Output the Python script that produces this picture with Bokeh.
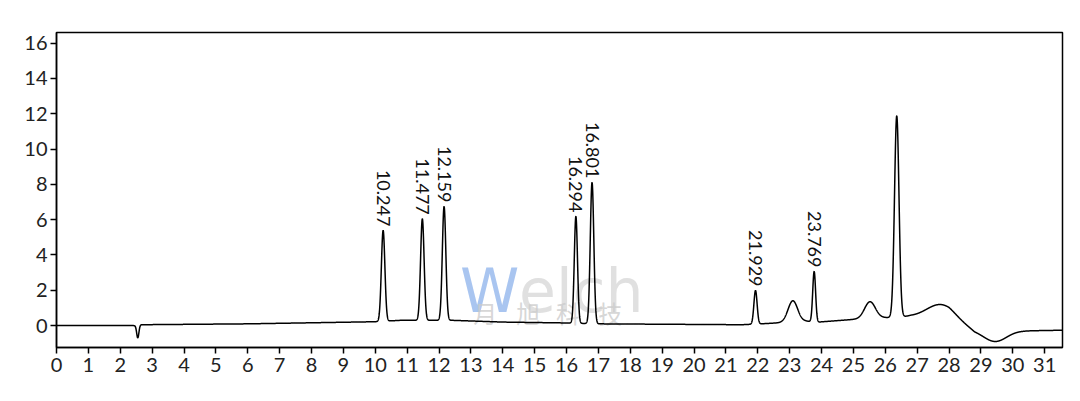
import numpy as np
from math import pi
from bokeh.plotting import figure
from bokeh.models import ColumnDataSource, Range1d, FixedTicker
from bokeh.core.properties import value
from bokeh.embed import file_html
from bokeh.resources import INLINE

# ---- data ----
# peaks: retention time (min), height above baseline (mAU), sigma (min)
peak_rt = [2.55, 10.247, 11.477, 12.159, 16.294, 16.801, 21.929, 23.10, 23.769, 25.52, 26.36, 27.75, 29.45]
peak_h = [-0.72, 5.15, 5.75, 6.45, 6.05, 8.0, 1.9, 1.2, 2.85, 0.95, 11.4, 0.85, -0.6]
peak_w = [0.035, 0.055, 0.055, 0.055, 0.05, 0.055, 0.05, 0.15, 0.045, 0.17, 0.07, 0.45, 0.35]

# baseline drift anchor points
base_t = [0.0, 2.45, 2.65, 6.0, 10.0, 10.8, 12.4, 14.0, 16.0, 17.0, 21.5, 22.3, 23.5, 23.9, 25.0, 26.0, 26.8, 28.0, 28.8, 30.3, 31.6]
base_y = [0.0, 0.0, 0.05, 0.1, 0.22, 0.3, 0.3, 0.2, 0.15, 0.1, 0.05, 0.12, 0.25, 0.2, 0.35, 0.45, 0.5, 0.3, -0.3, -0.3, -0.26]

# labelled peaks
label_text = ["10.247", "11.477", "12.159", "16.294", "16.801", "21.929", "23.769"]
label_rt = [10.247, 11.477, 12.159, 16.294, 16.801, 21.929, 23.769]

x_ticks = list(range(0, 32))
y_ticks = list(range(0, 17, 2))

# ---- build trace ----
t = np.linspace(0, 31.6, 8000)


def signal(tt):
    tt = np.asarray(tt, dtype=float)
    s = np.interp(tt, base_t, base_y)
    for rt, h, w in zip(peak_rt, peak_h, peak_w):
        s = s + h * np.exp(-0.5 * ((tt - rt) / w) ** 2)
    return s


trace = ColumnDataSource(dict(t=t, s=signal(t)))
labels = ColumnDataSource(dict(x=label_rt, y=signal(label_rt), txt=label_text))

p = figure(width=1064, height=385, x_range=Range1d(0, 31.56), y_range=Range1d(-1.24, 16.6),
           output_backend="svg", toolbar_location=None,
           min_border_left=56, min_border_right=2, min_border_top=32, min_border_bottom=38)
p.grid.visible = False
p.outline_line_color = "black"
p.outline_line_width = 1.5
p.background_fill_color = "white"

for ax in (p.xaxis[0], p.yaxis[0]):
    ax.axis_line_width = 1.5
    ax.axis_line_color = "black"
    ax.major_tick_line_color = "black"
    ax.major_tick_line_width = 1.5
    ax.major_tick_out = 6
    ax.major_tick_in = 0
    ax.minor_tick_line_color = None
    ax.major_label_text_font = "Lato"
    ax.major_label_text_font_size = "20px"
    ax.major_label_text_color = "#222222"
p.xaxis.ticker = FixedTicker(ticks=x_ticks)
p.yaxis.ticker = FixedTicker(ticks=y_ticks)
p.xaxis.major_label_standoff = 4
p.yaxis.major_label_standoff = 3

# watermark
p.text(x=[12.66], y=[1.97], text=["W"], text_font=value("DejaVu Sans"), text_font_size="60px",
       text_color="#6f9fe6", text_alpha=0.6, text_baseline="alphabetic", text_align="left")
p.text(x=[14.51], y=[1.97], text=["elch"], text_font=value("DejaVu Sans"), text_font_size="60px",
       text_color="#d6d6d6", text_alpha=0.75, text_baseline="alphabetic", text_align="left")
p.text(x=[13.45, 14.8, 16.05, 17.37], y=[0.74] * 4, text=["月", "旭", "科", "技"],
       text_font=value("Noto Sans CJK SC"), text_font_size="24px", text_color="#cccccc",
       text_alpha=0.8, text_align="center", text_baseline="middle")

p.line("t", "s", source=trace, line_color="black", line_width=1.5)
p.text(x="x", y="y", text="txt", source=labels, angle=-pi / 2, text_align="right",
       text_baseline="middle", text_font=value("Lato"), text_font_size="18px",
       text_color="#111111", y_offset=-4)

open("out.html", "w").write(file_html(p, INLINE))
